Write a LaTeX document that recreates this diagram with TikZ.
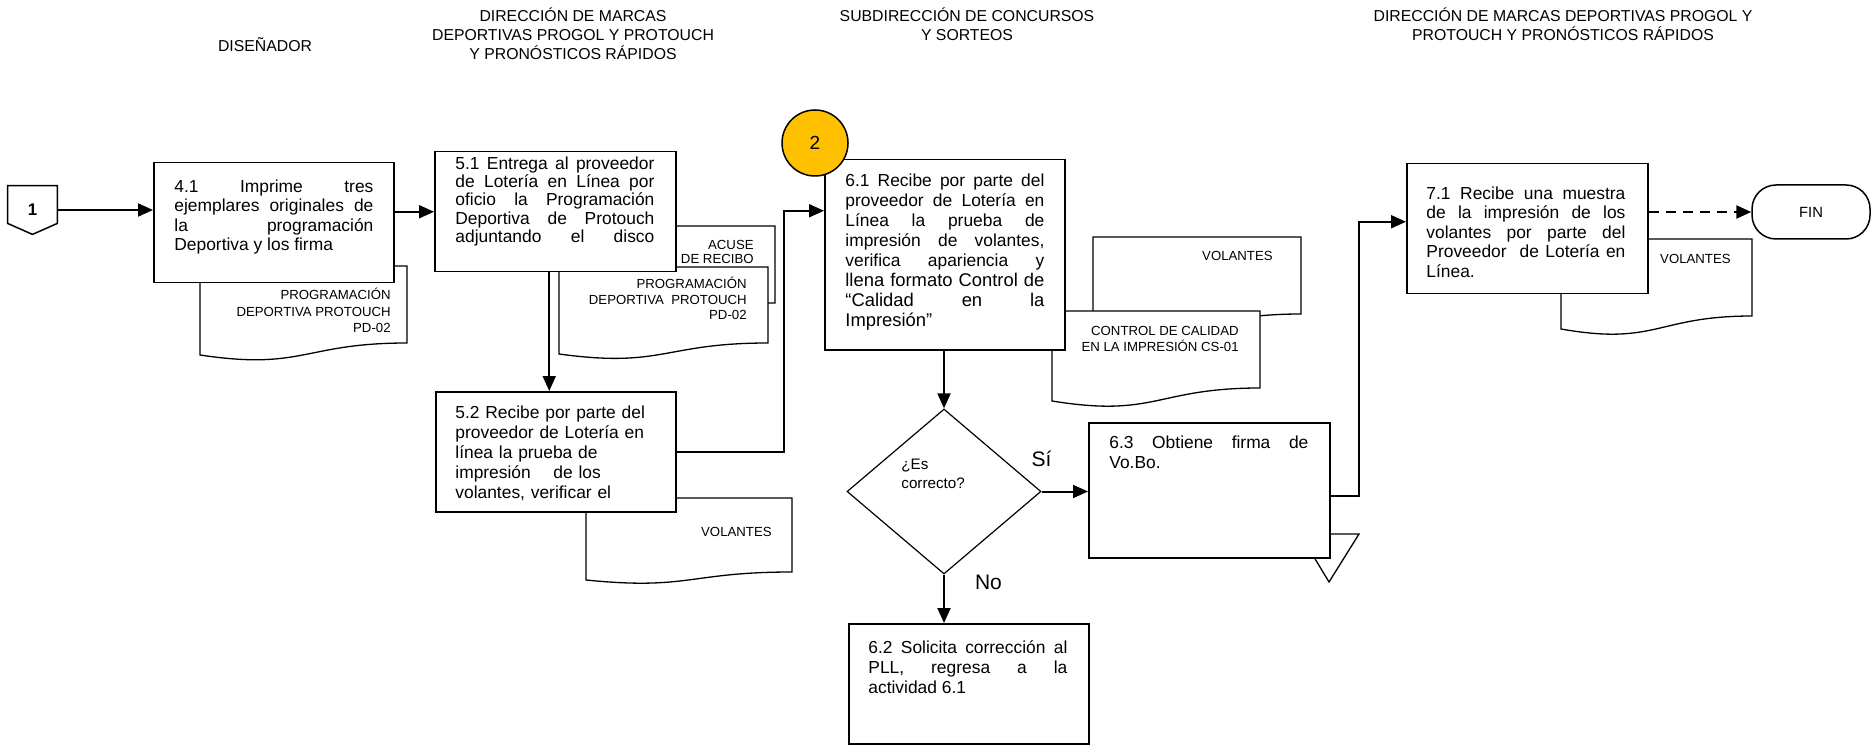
\documentclass[tikz,border=0pt]{standalone}
\usepackage{fontspec}
\setmainfont{Liberation Sans}
\usetikzlibrary{arrows.meta, positioning, shapes.geometric}
\definecolor{amarillo}{HTML}{FFC000}
\tikzset{
  caja/.style={draw, rectangle, fill=white, line width=0.75pt, minimum width=120pt, inner sep=0pt, anchor=north west},
  texto-caja/.style={inner sep=0pt, text width=99.5pt, align=justify, anchor=base west, font=\fontsize{8.7}{10}\selectfont},
  etiqueta-doc/.style={inner sep=0pt, align=right, anchor=base east, font=\fontsize{6.6}{8}\selectfont},
  encabezado/.style={inner sep=0pt, align=center, anchor=base, font=\fontsize{7.9}{9.5}\selectfont},
  documento/.style={draw, fill=white, line width=0.65pt},
  flecha/.style={line width=1pt, -{Triangle[length=7.5pt, width=6.5pt]}},
  respuesta/.style={inner sep=0pt, font=\fontsize{10.5}{12}\selectfont}
}
\newcommand{\hoja}[5]{%
  \pgfmathsetmacro{\hojamedio}{(#1+#3)/2}%
  \pgfmathsetmacro{\hojacurva}{#4+2.3*(#5-#4)}%
  \filldraw[documento] (#1,#2) -- (#3,#2) -- (#3,#4) .. controls (\hojamedio,#4) and (\hojamedio,\hojacurva) .. (#1,#5) -- cycle;}

\begin{document}
\begin{tikzpicture}[x=0.5pt, y=-0.5pt]
            \useasboundingbox (0,0) rectangle (1871,748);
            \fill[white] (0,0) rectangle (1871,748);

            \node[encabezado] (enc-disenador) at (265,52) {DISEÑADOR};
            \node[encabezado] (enc-direccion) at (573,60) {DIRECCIÓN DE MARCAS\\DEPORTIVAS PROGOL Y PROTOUCH\\Y PRONÓSTICOS RÁPIDOS};
            \node[encabezado] (enc-subdireccion) at (967,41) {SUBDIRECCIÓN DE CONCURSOS\\Y SORTEOS};
            \node[encabezado] (enc-direccion-final) at (1563,41) {DIRECCIÓN DE MARCAS DEPORTIVAS PROGOL Y\\PROTOUCH Y PRONÓSTICOS RÁPIDOS};

            \hoja{200}{266}{407}{343}{355}
            \node[etiqueta-doc, font=\fontsize{6.6}{8.5}\selectfont] (doc-programacion) at (391,333) {PROGRAMACIÓN\\DEPORTIVA PROTOUCH\\PD-02};
            \hoja{565}{226}{775}{303}{320}
            \node[etiqueta-doc, font=\fontsize{6.6}{7.25}\selectfont] (doc-acuse) at (754,264) {ACUSE\\DE RECIBO};
            \hoja{559}{267}{768}{343}{354}
            \node[etiqueta-doc, font=\fontsize{6.6}{7.75}\selectfont] (doc-programacion-2) at (747,320) {PROGRAMACIÓN\\DEPORTIVA\ \ PROTOUCH\\PD-02};
            \hoja{586}{498}{792}{572}{580}
            \node[etiqueta-doc] (doc-volantes-1) at (772,536) {VOLANTES};
            \hoja{1093}{237}{1301}{314}{327}
            \node[etiqueta-doc] (doc-volantes-2) at (1273,261) {VOLANTES};
            \hoja{1052}{311}{1260}{388}{401}
            \node[etiqueta-doc] (doc-control) at (1239,351) {CONTROL DE CALIDAD\\EN LA IMPRESIÓN CS-01};
            \hoja{1561}{239}{1752}{316}{329}
            \node[etiqueta-doc] (doc-volantes-3) at (1731,264) {VOLANTES};
            \filldraw[documento] (1300,534) -- (1359,534) -- (1329,582) -- cycle;

            \node[inner sep=0pt, minimum width=24.5pt, minimum height=24pt, font=\bfseries\fontsize{8.4}{10}\selectfont] (conector-1) at (32.5,210) {1};
            \draw[line width=0.75pt] (conector-1.north west) -- (conector-1.north east) -- ([yshift=5.5pt]conector-1.south east) -- (conector-1.south) -- ([yshift=5.5pt]conector-1.south west) -- cycle;

            \node[caja, minimum height=60pt] (imprime) at (153,162) {};
            \node[texto-caja, font=\fontsize{8.7}{9.75}\selectfont] (txt-imprime) at ([shift={(21,30.5)}]imprime.north west) {4.1 Imprime tres\linebreak ejemplares originales de\linebreak la programación\linebreak Deportiva y los firma};

            \node[caja, minimum width=120.5pt, minimum height=60pt] (entrega) at (434,151) {};
            \node[texto-caja, font=\fontsize{8.7}{9.1}\selectfont] (txt-entrega) at ([shift={(21,18.5)}]entrega.north west) {5.1 Entrega al proveedor\linebreak de Lotería en Línea por\linebreak oficio la Programación\linebreak Deportiva de Protouch\linebreak adjuntando\hfill el\hfill disco};

            \node[caja, minimum height=60pt] (recibe-prueba) at (435,391) {};
            \node[texto-caja, align=left] (txt-recibe-prueba) at ([shift={(20,27.5)}]recibe-prueba.north west) {5.2 Recibe por parte del\\proveedor de Lotería en\\línea la prueba de\\impresión\hspace{1.3em}de los\\volantes, verificar el};

            \node[caja, minimum height=95pt] (recibe-proveedor) at (824,159) {};
            \node[texto-caja] (txt-recibe-proveedor) at ([shift={(21,27.5)}]recibe-proveedor.north west) {6.1 Recibe por parte del\linebreak proveedor de Lotería en\linebreak Línea la prueba de\linebreak impresión de volantes,\linebreak verifica apariencia y\linebreak {\fontsize{9.2}{10}\selectfont llena formato Control de\linebreak “Calidad en la\linebreak Impresión”}};
            \node[circle, draw, fill=amarillo, line width=0.75pt, minimum size=33pt, inner sep=0pt, font=\fontsize{9.5}{11}\selectfont] (conector-2) at (815,143) {2};

            \node[diamond, draw, fill=white, line width=0.6pt, minimum width=97pt, minimum height=82.5pt, inner sep=0pt] (es-correcto) at (944,491.5) {};
            \node[inner sep=0pt, align=left, anchor=base west, font=\fontsize{7.6}{9.5}\selectfont] (txt-es-correcto) at (901,488) {¿Es\\correcto?};

            \node[caja, minimum height=60pt] (solicita) at (848,623) {};
            \node[texto-caja] (txt-solicita) at ([shift={(20,30.5)}]solicita.north west) {6.2 Solicita corrección al\linebreak PLL, regresa a la\linebreak actividad 6.1};

            \node[caja, minimum width=120.5pt, minimum height=67.5pt] (obtiene-firma) at (1088,422) {};
            \node[texto-caja] (txt-obtiene-firma) at ([shift={(21,26.5)}]obtiene-firma.north west) {6.3 Obtiene firma de\linebreak Vo.Bo.};

            \node[caja, minimum width=120.5pt, minimum height=65pt] (recibe-muestra) at (1406,163) {};
            \node[texto-caja, font=\fontsize{8.7}{9.75}\selectfont] (txt-recibe-muestra) at ([shift={(20,36.5)}]recibe-muestra.north west) {7.1 Recibe una muestra\linebreak de la impresión de los\linebreak volantes por parte del\linebreak Proveedor\ \ de Lotería en\linebreak Línea.};

            \node[draw, rounded corners=12pt, line width=0.75pt, minimum width=59pt, minimum height=27pt, inner sep=0pt, font=\fontsize{7.4}{9}\selectfont] (fin) at (1811,212) {FIN};

            \draw[flecha] (conector-1.east) -- (conector-1.east -| imprime.west);
            \draw[flecha] (imprime.east |- entrega.west) -- (entrega.west);
            \draw[flecha] ([xshift=-3pt]entrega.south) -- ([xshift=-3pt]entrega.south |- recibe-prueba.north);
            \draw[flecha] (recibe-prueba.east) -| ([xshift=-20pt, yshift=22pt]recibe-proveedor.west) -- ([yshift=22pt]recibe-proveedor.west);
            \draw[flecha] (es-correcto.north |- recibe-proveedor.south) -- (es-correcto.north);
            \draw[flecha] (es-correcto.east) -- node[respuesta, pos=0, above=12pt] (si) {Sí} (es-correcto.east -| obtiene-firma.west);
            \draw[flecha] (es-correcto.south) -- node[respuesta, pos=0.16, right=15pt] (no) {No} (es-correcto.south |- solicita.north);
            \draw[flecha] ([yshift=-2.75pt]obtiene-firma.east) -| ([xshift=-23.5pt, yshift=3.5pt]recibe-muestra.west) -- ([yshift=3.5pt]recibe-muestra.west);
            \draw[flecha, line width=1.2pt, dash pattern=on 5pt off 3.5pt] (recibe-muestra.east |- fin.west) -- (fin.west);
\end{tikzpicture}
\end{document}
